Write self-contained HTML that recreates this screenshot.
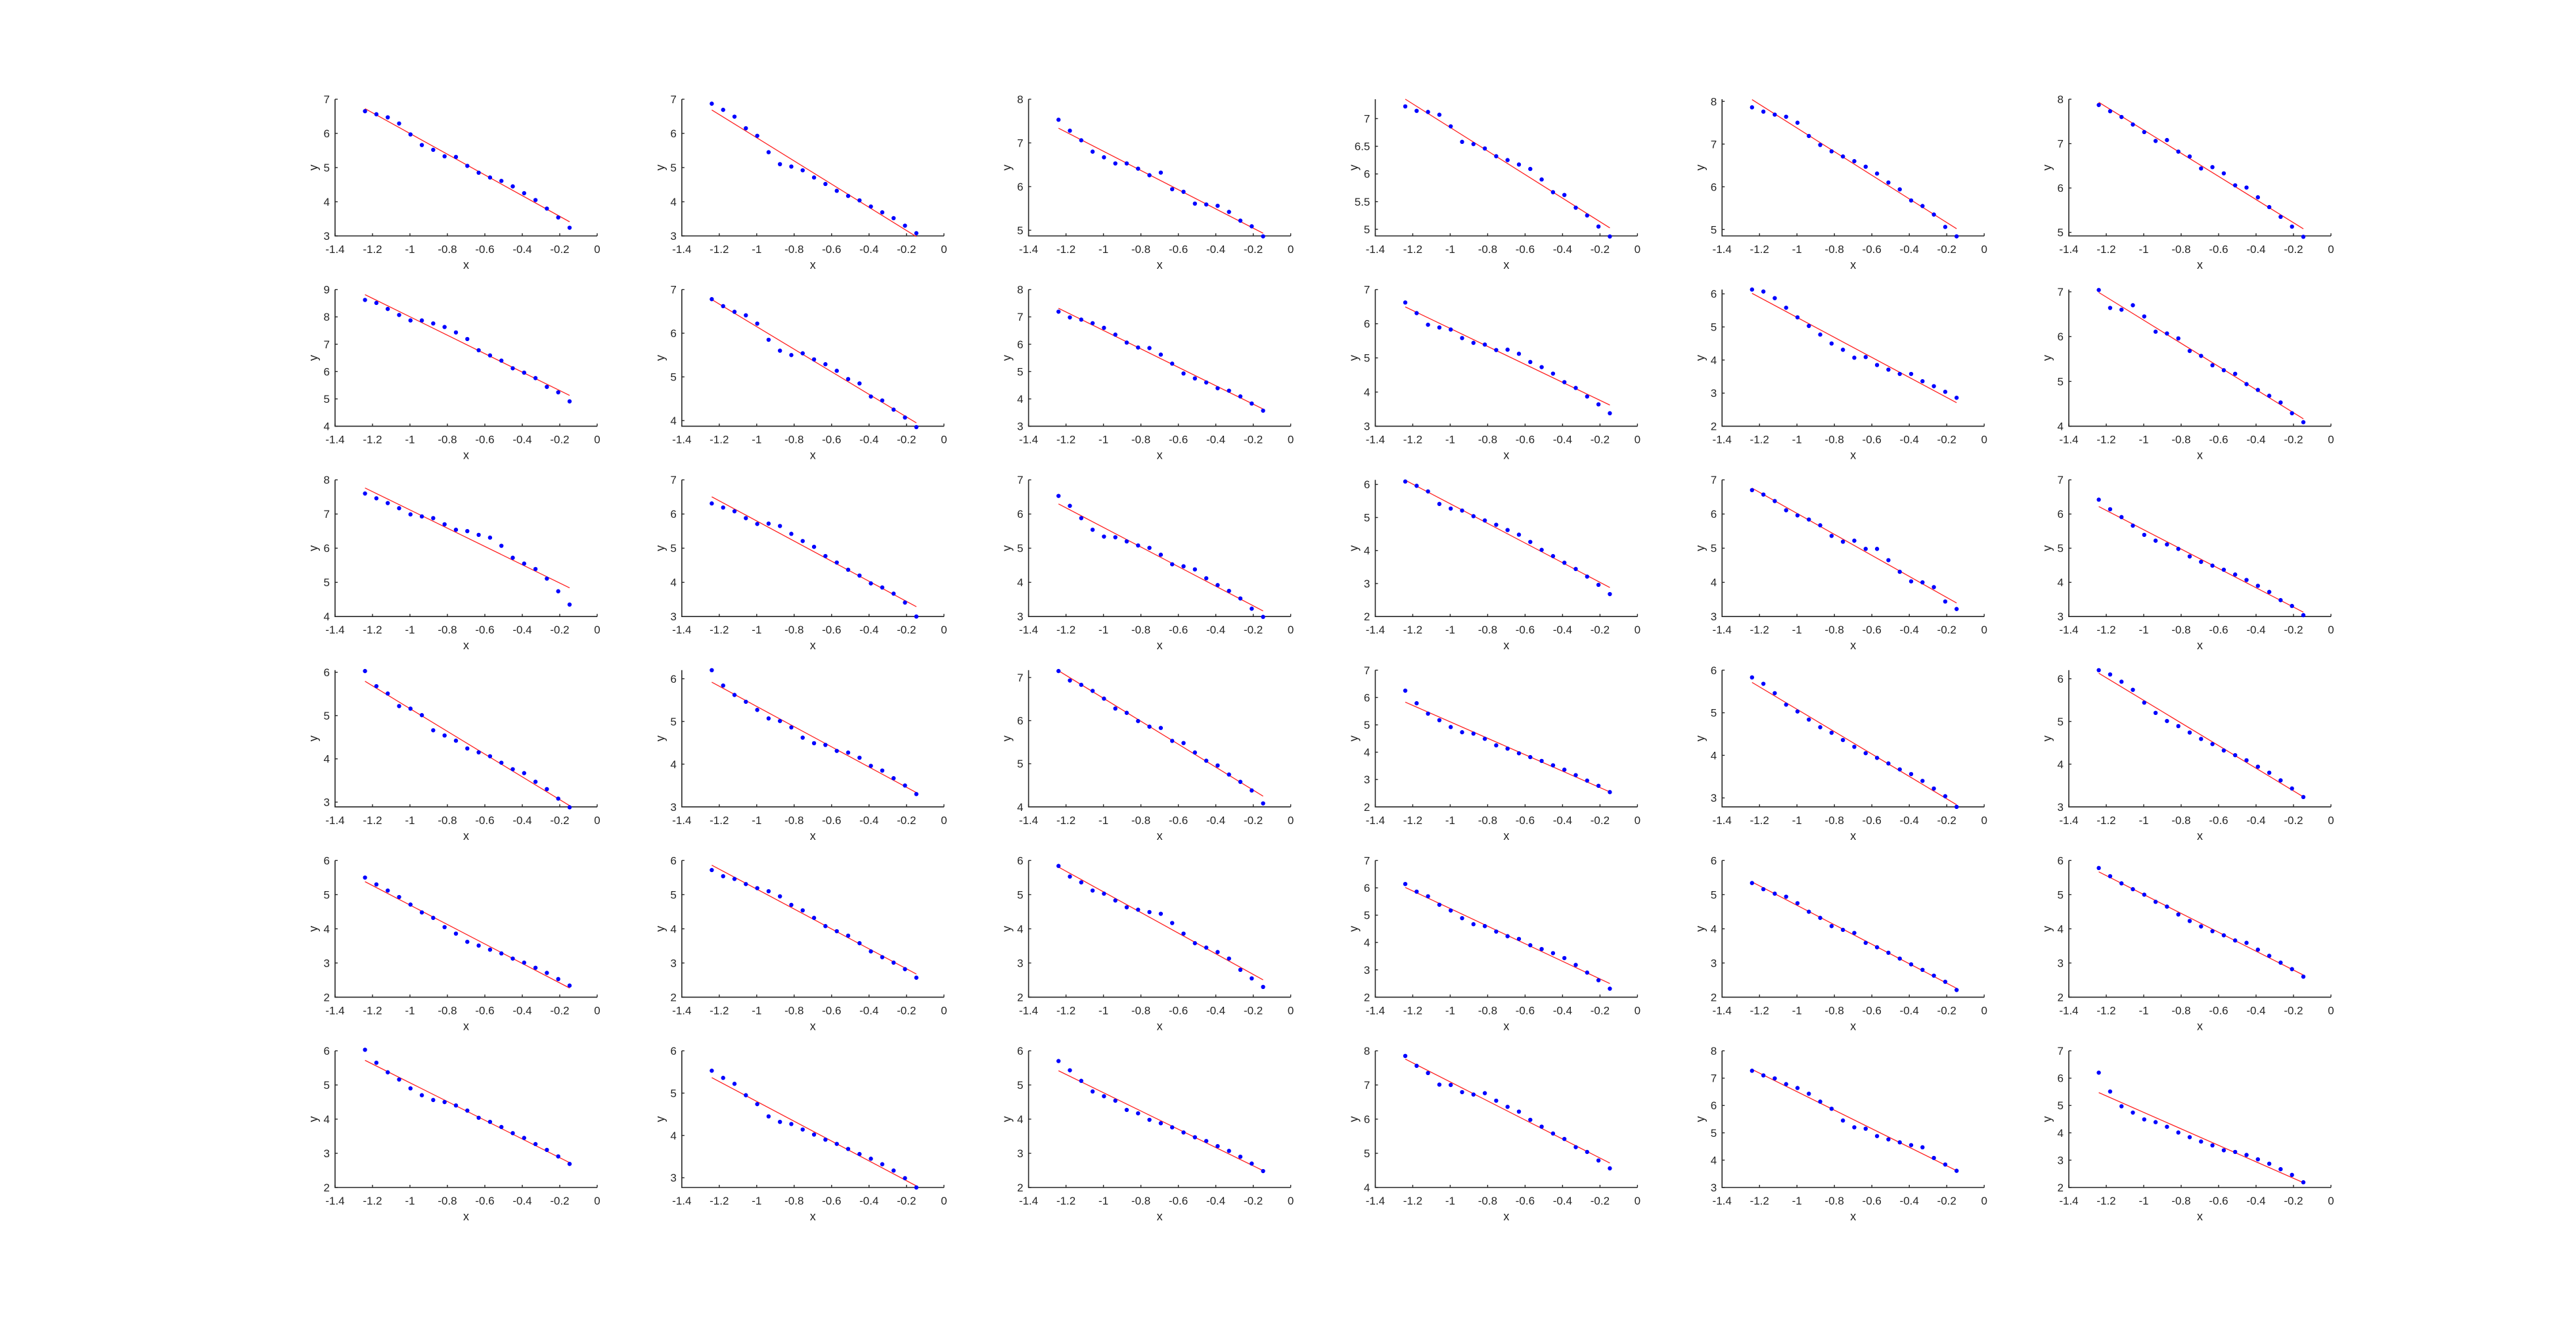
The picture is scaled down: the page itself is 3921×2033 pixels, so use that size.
<!DOCTYPE html>
<html><head><meta charset="utf-8">
<style>
html,body{margin:0;padding:0;background:#fff;}
svg{display:block;}
text{font-family:"Liberation Sans",sans-serif;fill:#262626;}
</style></head>
<body>
<svg id="fig" width="3921" height="2033" viewBox="0 0 3921 2033" xmlns="http://www.w3.org/2000/svg">
<rect width="3921" height="2033" fill="#fff"/>
</svg>
<script>
const xStart = -1.24;
const xStep = 0.0607;
const xTicks = [-1.4,-1.2,-1,-0.8,-0.6,-0.4,-0.2,0];
const xTickLabels = ['-1.4','-1.2','-1','-0.8','-0.6','-0.4','-0.2','0'];
const yMins = [3,3,4.87,4.88,4.85,4.92, 4,3.87,3,3,2,4, 4,3,3,2,3,3, 2.89,3,4,2,2.79,3, 2,2,2,2,2,2, 2,2.77,2,4,3,2];
const yMaxs = [7,7,8,7.35,8.05,8, 9,7,8,7,6.13,7.05, 8,7,7,6.14,7,7, 6.05,6.2,7.17,7,6,6.2, 6,6,6,7,6,6, 6,6,6,8,8,7];
const yTickSteps = [1,1,1,0.5,1,1, 1,1,1,1,1,1, 1,1,1,1,1,1, 1,1,1,1,1,1, 1,1,1,1,1,1, 1,1,1,1,1,1];
const ys = [
[6.65,6.56,6.47,6.29,5.97,5.66,5.52,5.33,5.31,5.05,4.85,4.71,4.61,4.45,4.25,4.05,3.80,3.54,3.24],
[6.87,6.69,6.49,6.15,5.93,5.45,5.10,5.03,4.92,4.71,4.52,4.32,4.17,4.04,3.86,3.69,3.52,3.30,3.08],
[7.53,7.28,7.06,6.80,6.67,6.53,6.53,6.41,6.26,6.32,5.94,5.88,5.61,5.59,5.56,5.42,5.22,5.09,4.86],
[7.22,7.14,7.12,7.07,6.86,6.58,6.54,6.46,6.32,6.25,6.17,6.09,5.90,5.67,5.62,5.39,5.25,5.05,4.87],
[7.86,7.76,7.69,7.64,7.50,7.19,6.98,6.83,6.71,6.60,6.47,6.31,6.10,5.94,5.68,5.55,5.35,5.06,4.84],
[7.87,7.73,7.60,7.43,7.26,7.06,7.08,6.82,6.71,6.44,6.47,6.33,6.06,6.01,5.79,5.57,5.35,5.13,4.90],
[8.62,8.51,8.29,8.07,7.87,7.87,7.76,7.63,7.43,7.19,6.78,6.59,6.40,6.12,5.96,5.76,5.44,5.24,4.91],
[6.78,6.62,6.49,6.41,6.22,5.85,5.60,5.50,5.54,5.40,5.29,5.14,4.95,4.85,4.55,4.46,4.25,4.07,3.85],
[7.19,6.98,6.90,6.77,6.60,6.35,6.06,5.88,5.86,5.62,5.29,4.93,4.75,4.60,4.39,4.30,4.09,3.83,3.57],
[6.62,6.31,5.97,5.89,5.83,5.58,5.44,5.39,5.23,5.24,5.12,4.88,4.73,4.54,4.29,4.12,3.87,3.64,3.38],
[6.13,6.07,5.87,5.58,5.29,5.03,4.77,4.50,4.31,4.07,4.09,3.85,3.71,3.58,3.58,3.36,3.21,3.04,2.86],
[7.04,6.64,6.60,6.70,6.45,6.11,6.07,5.96,5.68,5.57,5.36,5.25,5.17,4.94,4.81,4.68,4.53,4.29,4.09],
[7.60,7.46,7.32,7.17,6.99,6.93,6.88,6.70,6.54,6.50,6.39,6.31,6.07,5.72,5.55,5.39,5.11,4.74,4.35],
[6.31,6.19,6.08,5.88,5.71,5.72,5.65,5.42,5.21,5.04,4.77,4.58,4.37,4.20,3.97,3.85,3.67,3.41,3.00],
[6.53,6.24,5.88,5.54,5.34,5.32,5.20,5.08,5.01,4.81,4.53,4.47,4.38,4.12,3.92,3.75,3.53,3.23,2.99],
[6.09,5.96,5.79,5.41,5.27,5.21,5.04,4.91,4.78,4.62,4.48,4.26,4.02,3.83,3.63,3.44,3.21,2.96,2.68],
[6.70,6.57,6.38,6.11,5.96,5.84,5.67,5.36,5.19,5.22,4.98,4.98,4.65,4.31,4.03,4.00,3.86,3.44,3.22],
[6.42,6.14,5.91,5.66,5.39,5.22,5.11,4.98,4.76,4.60,4.49,4.37,4.23,4.07,3.90,3.72,3.48,3.31,3.04],
[6.03,5.68,5.51,5.22,5.16,5.01,4.66,4.54,4.42,4.24,4.15,4.06,3.91,3.76,3.67,3.47,3.30,3.08,2.88],
[6.20,5.84,5.62,5.46,5.27,5.07,5.01,4.86,4.62,4.49,4.45,4.31,4.27,4.15,3.96,3.85,3.67,3.50,3.30],
[7.15,6.93,6.83,6.69,6.51,6.28,6.18,5.99,5.86,5.83,5.53,5.48,5.26,5.07,4.96,4.75,4.58,4.38,4.08],
[6.25,5.79,5.41,5.17,4.92,4.73,4.68,4.49,4.25,4.13,3.96,3.82,3.68,3.52,3.36,3.16,2.96,2.77,2.54],
[5.83,5.68,5.46,5.19,5.03,4.84,4.66,4.53,4.36,4.20,4.05,3.94,3.81,3.67,3.56,3.40,3.22,3.04,2.79],
[6.20,6.10,5.93,5.74,5.44,5.20,5.01,4.89,4.74,4.59,4.47,4.32,4.21,4.09,3.94,3.80,3.62,3.43,3.23],
[5.50,5.30,5.12,4.93,4.71,4.48,4.32,4.05,3.86,3.62,3.51,3.39,3.28,3.13,3.01,2.86,2.71,2.53,2.34],
[5.72,5.54,5.46,5.31,5.19,5.10,4.95,4.70,4.54,4.32,4.08,3.93,3.80,3.58,3.34,3.17,3.01,2.82,2.57],
[5.84,5.53,5.36,5.12,5.03,4.83,4.63,4.56,4.49,4.44,4.17,3.86,3.58,3.45,3.32,3.13,2.80,2.55,2.30],
[6.14,5.86,5.69,5.38,5.17,4.89,4.67,4.60,4.40,4.23,4.13,3.90,3.76,3.61,3.43,3.18,2.90,2.62,2.31],
[5.34,5.16,5.03,4.94,4.75,4.50,4.32,4.08,3.97,3.88,3.59,3.46,3.30,3.13,2.96,2.80,2.63,2.45,2.21],
[5.78,5.54,5.33,5.16,5.00,4.79,4.65,4.42,4.23,4.07,3.93,3.81,3.66,3.59,3.39,3.21,3.01,2.82,2.60],
[6.03,5.65,5.37,5.16,4.90,4.70,4.56,4.50,4.40,4.25,4.04,3.92,3.77,3.59,3.45,3.27,3.10,2.91,2.69],
[5.53,5.36,5.22,4.95,4.74,4.45,4.32,4.27,4.14,4.02,3.90,3.80,3.68,3.56,3.45,3.32,3.17,2.99,2.77],
[5.70,5.43,5.12,4.81,4.67,4.54,4.27,4.17,3.98,3.88,3.76,3.61,3.47,3.36,3.21,3.07,2.90,2.70,2.48],
[7.85,7.56,7.35,7.01,7.00,6.79,6.72,6.76,6.54,6.36,6.22,5.98,5.78,5.58,5.42,5.18,5.04,4.79,4.56],
[7.27,7.10,6.99,6.78,6.64,6.43,6.14,5.88,5.45,5.20,5.15,4.88,4.76,4.65,4.55,4.47,4.08,3.84,3.61],
[6.20,5.51,4.97,4.74,4.49,4.39,4.22,4.01,3.84,3.68,3.54,3.36,3.30,3.19,3.03,2.87,2.67,2.46,2.19]
];

const NS = 'http://www.w3.org/2000/svg';
const svg = document.getElementById('fig');
const AX_L0 = 510, AX_DX = 527.8, AX_W = 399;
const AX_T0 = 151, AX_DY = 289.6, AX_H = 208;
const AXC = '#262626';
function mk(tag, attrs, parent) {
  const e = document.createElementNS(NS, tag);
  for (const k in attrs) e.setAttribute(k, attrs[k]);
  parent.appendChild(e);
  return e;
}
for (let p = 0; p < 36; p++) {
  const r = Math.floor(p / 6), c = p % 6;
  const L = AX_L0 + c * AX_DX, T = AX_T0 + r * AX_DY, B = T + AX_H, R = L + AX_W;
  const ymin = yMins[p], ymax = yMaxs[p];
  const sx = v => L + (v + 1.4) / 1.4 * AX_W;
  const sy = v => B - (v - ymin) / (ymax - ymin) * AX_H;
  const g = mk('g', {}, svg);
  
  
  // axes
  const ax = mk('path', {d: `M${L},${T}V${B}H${R}`, stroke: AXC, 'stroke-width': 1.6, fill: 'none'}, g);
  
  
  // x ticks
  xTicks.forEach((t, i) => {
    const x = sx(t);
    mk('line', {x1: x, x2: x, y1: B, y2: B - 4, stroke: AXC, 'stroke-width': 1.4}, g);
    const tx = mk('text', {x: x, y: B + 26, 'font-size': 17, 'text-anchor': 'middle'}, g);
    tx.textContent = xTickLabels[i];
    
    
  });
  // y ticks
  const st = yTickSteps[p];
  for (let v = Math.ceil(ymin / st - 1e-6) * st; v <= ymax + 1e-6; v += st) {
    const y = sy(v);
    mk('line', {x1: L, x2: L + 4, y1: y, y2: y, stroke: AXC, 'stroke-width': 1.4}, g);
    const ty = mk('text', {x: L - 8, y: y + 6, 'font-size': 17, 'text-anchor': 'end'}, g);
    ty.textContent = String(Math.round(v * 10) / 10);
    
    
  }
  const xl = mk('text', {x: L + AX_W / 2, y: B + 50, 'font-size': 18, 'text-anchor': 'middle'}, g);
  xl.textContent = 'x';
  
  
  const yl = mk('text', {x: 0, y: 0, 'font-size': 18, 'text-anchor': 'middle', transform: `translate(${L - 27},${T + AX_H / 2}) rotate(-90)`}, g);
  yl.textContent = 'y';
  
  
  // regression line
  const yv = ys[p], n = yv.length;
  const xv = yv.map((_, i) => xStart + i * xStep);
  const mx = xv.reduce((a, b) => a + b, 0) / n, my = yv.reduce((a, b) => a + b, 0) / n;
  let sxy = 0, sxx = 0;
  for (let i = 0; i < n; i++) { sxy += (xv[i] - mx) * (yv[i] - my); sxx += (xv[i] - mx) ** 2; }
  const slope = sxy / sxx, icpt = my - slope * mx;
  const x0 = xv[0], x1 = xv[n - 1];
  const fl = mk('line', {x1: sx(x0), y1: sy(icpt + slope * x0), x2: sx(x1), y2: sy(icpt + slope * x1), stroke: '#ff2020', 'stroke-width': 1.3}, g);
  
  
  // points
  for (let i = 0; i < n; i++) {
    const pt = mk('circle', {cx: sx(xv[i]), cy: sy(yv[i]), r: 3.2, fill: '#0000ff'}, g);
    
    
  }
}
</script>
</body></html>
